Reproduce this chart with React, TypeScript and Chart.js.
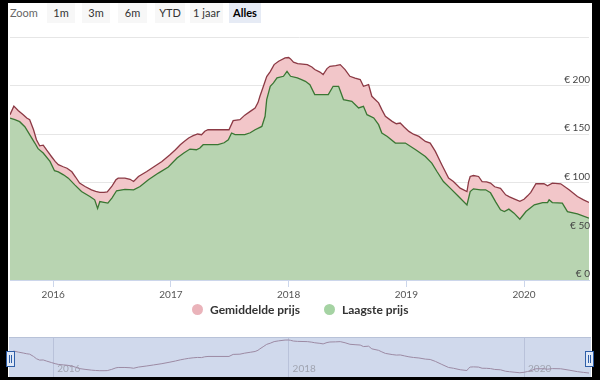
import React, { useEffect, useRef } from 'react';
import { Chart, registerables } from 'chart.js';

Chart.register(...registerables);

const FONT = 'Lato, "Noto Sans", sans-serif';

const seriesNames = ['Gemiddelde prijs', 'Laagste prijs'];
const rangeButtons = ['1m', '3m', '6m', 'YTD', '1 jaar', 'Alles'];
const selectedRange = 'Alles';

const avgDates = [
  '2015-08-20', '2015-09-01', '2015-09-15', '2015-09-30', '2015-10-11', '2015-10-20', '2015-11-01', '2015-11-10',
  '2015-11-20', '2015-12-01', '2015-12-12', '2015-12-27', '2016-01-07', '2016-01-17', '2016-02-01', '2016-02-13',
  '2016-02-28', '2016-03-11', '2016-03-23', '2016-04-09', '2016-04-29', '2016-05-12', '2016-05-25', '2016-06-07',
  '2016-06-17', '2016-07-01', '2016-07-14', '2016-07-21', '2016-08-11', '2016-08-27', '2016-09-07', '2016-09-22',
  '2016-10-18', '2016-11-08', '2016-12-04', '2016-12-29', '2017-01-15', '2017-01-30', '2017-02-12', '2017-02-25',
  '2017-03-11', '2017-03-25', '2017-04-06', '2017-04-16', '2017-04-26', '2017-06-30', '2017-07-13', '2017-08-03',
  '2017-08-18', '2017-09-04', '2017-09-19', '2017-09-28', '2017-10-04', '2017-10-14', '2017-10-25', '2017-11-05',
  '2017-11-17', '2017-12-01', '2017-12-21', '2018-01-01', '2018-01-07', '2018-01-16', '2018-01-29', '2018-02-28',
  '2018-03-14', '2018-03-23', '2018-04-08', '2018-04-18', '2018-04-30', '2018-05-09', '2018-05-27', '2018-06-10',
  '2018-06-25', '2018-07-10', '2018-07-26', '2018-08-11', '2018-08-21', '2018-09-06', '2018-09-16', '2018-10-07',
  '2018-10-17', '2018-10-28', '2018-11-18', '2018-12-01', '2018-12-13', '2018-12-26', '2019-01-09', '2019-01-23',
  '2019-02-09', '2019-03-01', '2019-03-16', '2019-04-01', '2019-04-21', '2019-05-12', '2019-05-27', '2019-06-17',
  '2019-07-08', '2019-07-13', '2019-07-18', '2019-07-28', '2019-08-13', '2019-08-24', '2019-09-07', '2019-09-19',
  '2019-10-02', '2019-10-20', '2019-11-05', '2019-11-17', '2019-12-01', '2019-12-19', '2020-01-01', '2020-01-12',
  '2020-01-22', '2020-02-07', '2020-03-03', '2020-03-14', '2020-03-29', '2020-04-24', '2020-05-20', '2020-06-15',
  '2020-07-04', '2020-07-21',
];
const avgPrices = [
  170.1, 178.9, 174.2, 170.1, 166.7, 164.9, 154.6, 144.3,
  138.1, 138.7, 133.5, 126.8, 122.0, 118.6, 116.5, 115.0,
  111.3, 105.7, 99.7, 96.2, 92.8, 91.2, 90.2, 90.2,
  90.6, 96.2, 103.1, 104.8, 104.8, 103.6, 101.3, 106.5,
  111.6, 116.2, 122.0, 128.9, 134.0, 139.2, 142.8, 146.1,
  148.5, 150.2, 149.5, 153.1, 154.6, 154.6, 163.9, 164.9,
  169.6, 173.5, 177.0, 182.5, 189.0, 198.5, 209.3, 214.4,
  221.6, 225.1, 228.6, 228.9, 227.5, 224.2, 222.7, 221.6,
  219.1, 216.5, 213.9, 211.3, 217.5, 219.9, 220.6, 221.6,
  216.5, 209.6, 207.7, 206.2, 199.3, 201.0, 189.0, 182.2,
  175.3, 168.4, 163.2, 160.8, 161.5, 157.2, 152.9, 150.0,
  147.7, 142.6, 140.9, 132.3, 118.6, 104.8, 101.3, 94.5,
  91.0, 101.0, 106.5, 107.5, 106.5, 101.3, 101.0, 99.7,
  95.9, 94.3, 87.6, 85.6, 83.5, 80.9, 83.0, 86.6,
  90.2, 99.0, 99.0, 96.9, 99.7, 99.0, 92.8, 85.9,
  82.5, 79.7,
];

const lowDates = [
  '2015-08-20', '2015-09-04', '2015-09-19', '2015-10-05', '2015-10-20', '2015-11-05', '2015-11-15', '2015-12-01',
  '2015-12-22', '2016-01-05', '2016-01-17', '2016-02-02', '2016-02-17', '2016-03-08', '2016-03-29', '2016-04-24',
  '2016-05-09', '2016-05-18', '2016-05-25', '2016-06-07', '2016-06-19', '2016-07-02', '2016-07-16', '2016-08-11',
  '2016-09-07', '2016-09-27', '2016-10-23', '2016-11-23', '2016-12-24', '2017-01-20', '2017-02-10', '2017-03-01',
  '2017-03-21', '2017-04-01', '2017-04-11', '2017-05-27', '2017-06-15', '2017-06-28', '2017-07-08', '2017-07-19',
  '2017-08-18', '2017-09-04', '2017-09-19', '2017-10-10', '2017-10-20', '2017-10-25', '2017-11-05', '2017-11-15',
  '2017-11-26', '2017-12-16', '2017-12-27', '2018-01-07', '2018-01-28', '2018-02-10', '2018-02-22', '2018-03-08',
  '2018-03-23', '2018-05-04', '2018-05-19', '2018-06-05', '2018-06-20', '2018-07-16', '2018-08-06', '2018-08-21',
  '2018-09-01', '2018-09-22', '2018-10-07', '2018-10-17', '2018-11-03', '2018-11-28', '2018-12-29', '2019-01-30',
  '2019-03-01', '2019-03-21', '2019-04-06', '2019-04-26', '2019-05-17', '2019-06-12', '2019-07-08', '2019-07-18',
  '2019-07-28', '2019-08-19', '2019-09-04', '2019-09-19', '2019-10-05', '2019-10-20', '2019-11-01', '2019-11-15',
  '2019-12-01', '2019-12-19', '2020-01-07', '2020-02-02', '2020-02-28', '2020-03-14', '2020-03-19', '2020-03-29',
  '2020-04-29', '2020-05-15', '2020-06-15', '2020-07-21',
];
const lowPrices = [
  166.5, 164.9, 162.9, 157.7, 149.5, 140.9, 135.1, 130.6,
  122.0, 112.4, 111.3, 108.2, 104.8, 97.9, 91.0, 85.9,
  82.5, 73.7, 80.7, 79.9, 79.1, 84.5, 91.8, 93.3,
  92.8, 96.2, 103.1, 110.0, 116.2, 125.5, 130.6, 134.7,
  134.0, 135.8, 139.2, 139.2, 141.2, 144.3, 151.2, 149.5,
  149.5, 151.5, 154.6, 158.0, 168.4, 185.6, 199.3, 202.8,
  207.9, 209.6, 214.7, 209.6, 207.9, 206.2, 204.4, 201.0,
  190.7, 190.7, 199.3, 199.3, 185.6, 183.8, 177.0, 178.7,
  170.1, 166.7, 159.8, 151.2, 147.7, 140.9, 140.9, 134.0,
  127.1, 120.3, 111.6, 101.3, 94.5, 85.9, 77.3, 91.0,
  93.8, 92.8, 92.8, 89.7, 80.4, 72.2, 70.4, 72.9,
  68.8, 62.6, 70.4, 77.3, 79.7, 79.7, 82.5, 79.7,
  79.1, 70.4, 68.0, 63.6,
];

function toYear(s: string): number {
  const [y, m, d] = s.split('-').map(Number);
  const t = Date.UTC(y, m - 1, d);
  const a = Date.UTC(y, 0, 1);
  const b = Date.UTC(y + 1, 0, 1);
  return y + (t - a) / (b - a);
}

const btnBase: React.CSSProperties = {
  position: 'absolute',
  top: 3,
  height: 20,
  lineHeight: '20px',
  textAlign: 'center',
  fontFamily: FONT,
  fontSize: 11,
  color: '#333',
  background: '#f7f7f7',
};
const btnPos = [
  [47, 28],
  [82, 28],
  [118, 29],
  [155, 30],
  [190, 33],
  [229, 32],
];

export default function App() {
  const mainRef = useRef<HTMLCanvasElement>(null);
  const navRef = useRef<HTMLCanvasElement>(null);

  useEffect(() => {
    const avg = avgDates.map((d, i) => ({ x: toYear(d), y: avgPrices[i] }));
    const low = lowDates.map((d, i) => ({ x: toYear(d), y: lowPrices[i] }));
    const xMin = Math.min(avg[0].x, low[0].x);
    const xMax = Math.max(avg[avg.length - 1].x, low[low.length - 1].x);
    const font = { family: FONT, size: 10 };

    const main = new Chart(mainRef.current as HTMLCanvasElement, {
      type: 'line',
      data: {
        datasets: [
          {
            label: seriesNames[0],
            data: avg,
            borderColor: '#8c3a45',
            backgroundColor: '#f2c6c9',
            fill: 'origin',
            borderWidth: 1.3,
            pointRadius: 0,
            tension: 0,
            order: 1,
          },
          {
            label: seriesNames[1],
            data: low,
            borderColor: '#3a7633',
            backgroundColor: '#b8d4b1',
            fill: 'origin',
            borderWidth: 1.3,
            pointRadius: 0,
            tension: 0,
            order: 0,
          },
        ],
      },
      options: {
        responsive: false,
        animation: false,
        events: [],
        layout: { padding: { left: 10, right: 11, top: 37, bottom: 0 } },
        plugins: { legend: { display: false }, tooltip: { enabled: false } },
        scales: {
          x: {
            type: 'linear',
            min: xMin,
            max: xMax,
            afterFit: (s: any) => {
              s.height = 25;
            },
            grid: { drawOnChartArea: false, drawTicks: true, tickLength: 7, color: '#ccd6eb' },
            border: { display: true, color: '#ccd6eb' },
            ticks: {
              stepSize: 1,
              includeBounds: false,
              autoSkip: false,
              maxRotation: 0,
              padding: 2,
              color: '#555',
              font,
              callback: (v: any) => String(v),
            },
          },
          y: {
            position: 'right',
            min: 0,
            max: 250,
            afterFit: (s: any) => {
              s.width = 0;
            },
            grid: { color: '#e6e6e6', drawTicks: false },
            border: { display: false },
            ticks: {
              stepSize: 50,
              mirror: true,
              z: 1,
              padding: 1,
              labelOffset: -6,
              color: '#444',
              font,
              callback: (v: any) => (v === 250 ? '' : '€ ' + v),
            },
          },
        },
      },
    } as any);

    const nav = new Chart(navRef.current as HTMLCanvasElement, {
      type: 'line',
      data: {
        datasets: [
          {
            data: avg,
            borderColor: '#9c8aa3',
            borderWidth: 1,
            pointRadius: 0,
            fill: false,
            tension: 0,
            clip: false,
          },
        ],
      },
      options: {
        responsive: false,
        animation: false,
        events: [],
        layout: { padding: { left: 10, right: 11, top: 0, bottom: 0 } },
        plugins: { legend: { display: false }, tooltip: { enabled: false } },
        scales: {
          x: {
            type: 'linear',
            min: xMin,
            max: xMax,
            afterFit: (s: any) => {
              s.height = 14;
            },
            grid: { color: '#b9c2da', drawTicks: true, tickLength: 14 },
            border: { display: false },
            ticks: {
              stepSize: 2,
              includeBounds: false,
              autoSkip: false,
              maxRotation: 0,
              align: 'start',
              labelOffset: 4,
              padding: -14,
              color: '#a0a4b0',
              font,
              callback: (v: any) => String(v),
            },
          },
          y: { display: false, min: 125, max: 242.5 },
        },
      },
    } as any);

    return () => {
      main.destroy();
      nav.destroy();
    };
  }, []);

  return (
    <div style={{ position: 'fixed', left: 0, top: 0, width: 600, height: 380, background: '#000', overflow: 'hidden' }}>
      <div style={{ position: 'absolute', left: 8, top: 3, width: 584, height: 374, background: '#fff' }} />
      <div style={{ position: 'absolute', left: 10, top: 3, height: 20, lineHeight: '20px', fontFamily: FONT, fontSize: 11, color: '#666' }}>
        Zoom
      </div>
      {rangeButtons.map((b, i) => (
        <div
          key={b}
          style={{
            ...btnBase,
            left: btnPos[i][0],
            width: btnPos[i][1],
            background: b === selectedRange ? '#e6ebf5' : '#f7f7f7',
            fontWeight: b === selectedRange ? 700 : 400,
            color: b === selectedRange ? '#000' : '#333',
          }}
        >
          {b}
        </div>
      ))}
      <canvas ref={mainRef} width={600} height={305} style={{ position: 'absolute', left: 0, top: 0 }} />
      <div style={{ position: 'absolute', left: 192, top: 304, width: 11, height: 11, borderRadius: '50%', background: '#eab3ba' }} />
      <div style={{ position: 'absolute', left: 210, top: 302, height: 16, lineHeight: '16px', fontFamily: FONT, fontSize: 12, fontWeight: 700, color: '#333', whiteSpace: 'nowrap' }}>
        {seriesNames[0]}
      </div>
      <div style={{ position: 'absolute', left: 324, top: 304, width: 11, height: 11, borderRadius: '50%', background: '#a5d3a3' }} />
      <div style={{ position: 'absolute', left: 342, top: 302, height: 16, lineHeight: '16px', fontFamily: FONT, fontSize: 12, fontWeight: 700, color: '#333', whiteSpace: 'nowrap' }}>
        {seriesNames[1]}
      </div>
      <div style={{ position: 'absolute', left: 9, top: 337, width: 582, height: 40, background: '#d0d9ec', borderTop: '1px solid #b8c2d8', boxSizing: 'border-box' }} />
      <canvas ref={navRef} width={600} height={40} style={{ position: 'absolute', left: 0, top: 337 }} />
      {[10, 589].map((cx) => (
        <div
          key={cx}
          style={{
            position: 'absolute',
            left: cx - 4,
            top: 351,
            width: 7,
            height: 14,
            background: '#dfe8f7',
            border: '1px solid #2f5fa8',
          }}
        >
          <div style={{ position: 'absolute', left: 2, top: 3, width: 1, height: 8, background: '#2f5fa8' }} />
          <div style={{ position: 'absolute', left: 4, top: 3, width: 1, height: 8, background: '#2f5fa8' }} />
        </div>
      ))}
    </div>
  );
}
